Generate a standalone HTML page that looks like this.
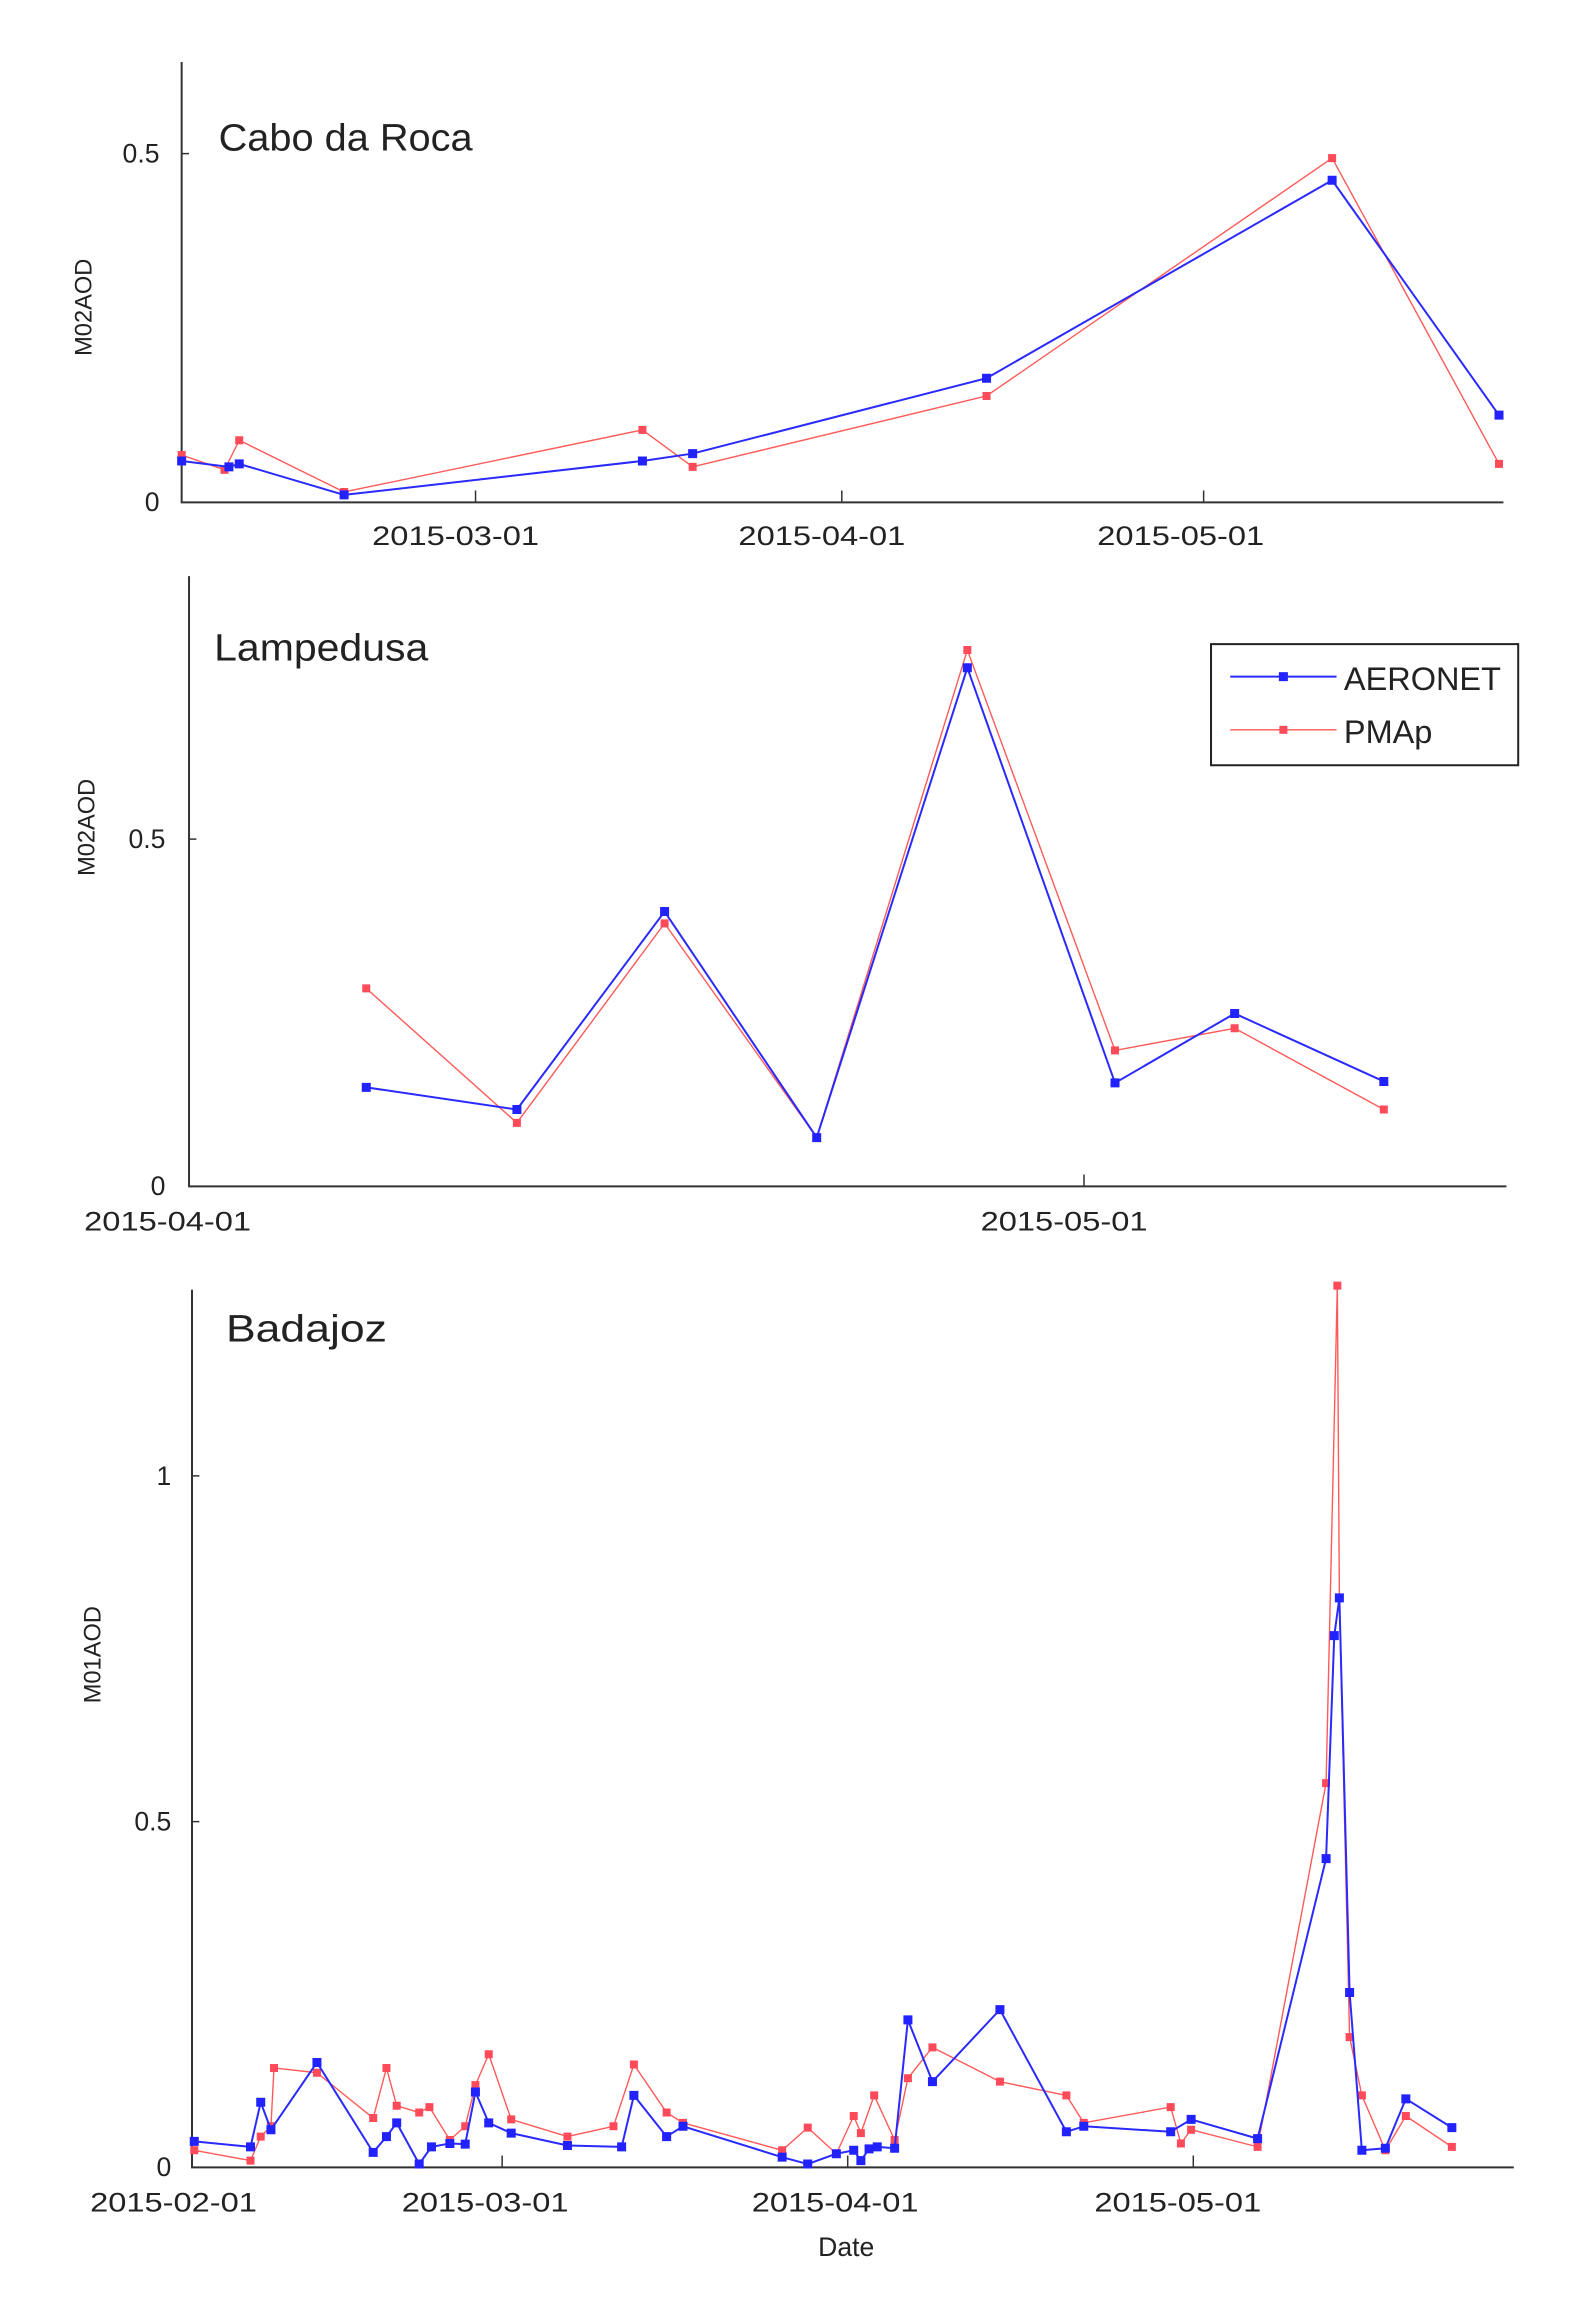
<!DOCTYPE html>
<html><head><meta charset="utf-8"><style>html,body{margin:0;padding:0;background:#fff}svg{display:block}</style></head>
<body>
<svg width="1595" height="2321" viewBox="0 0 1080 1571" preserveAspectRatio="none" xmlns="http://www.w3.org/2000/svg" font-family="Liberation Sans, sans-serif">
<style>
.ax{stroke:#333;fill:none;vector-effect:non-scaling-stroke}
.bl{stroke:#2a2aff;fill:none;stroke-width:2;vector-effect:non-scaling-stroke;stroke-linejoin:round}
.rd{stroke:#ff5a5a;fill:none;stroke-width:1.4;vector-effect:non-scaling-stroke;stroke-linejoin:round}
.bm{stroke:#2222ff;stroke-width:9;stroke-linecap:square;fill:none;vector-effect:non-scaling-stroke}
.rm{stroke:#ff4a5a;stroke-width:8;stroke-linecap:square;fill:none;vector-effect:non-scaling-stroke}
text{fill:#222}
</style>
<!-- Panel 1 -->
<path class="ax" style="stroke-width:2" d="M123 42V340H1018"/>
<path class="ax" style="stroke-width:1.5" d="M123 104h5M322 340v-8M570 340v-8M815 340v-8"/>
<text x="108" y="110" font-size="18" text-anchor="end">0.5</text>
<text x="108" y="346" font-size="18" text-anchor="end">0</text>
<text x="252" y="369" font-size="18" textLength="113" lengthAdjust="spacingAndGlyphs">2015-03-01</text>
<text x="500" y="369" font-size="18" textLength="113" lengthAdjust="spacingAndGlyphs">2015-04-01</text>
<text x="743" y="369" font-size="18" textLength="113" lengthAdjust="spacingAndGlyphs">2015-05-01</text>
<text x="148" y="102" font-size="26" textLength="172" lengthAdjust="spacingAndGlyphs">Cabo da Roca</text>
<text transform="translate(62,208) rotate(-90)" font-size="16" text-anchor="middle">M02AOD</text>
<polyline class="rd" points="123,308 152,318 162,298 233,333 435,291 469,316 668,268 902,107 1015,314"/>
<path class="rm" d="M123 308h0M152 318h0M162 298h0M233 333h0M435 291h0M469 316h0M668 268h0M902 107h0M1015 314h0"/>
<polyline class="bl" points="123,312 155,316 162,314 233,335 435,312 469,307 668,256 902,122 1015,281"/>
<path class="bm" d="M123 312h0M155 316h0M162 314h0M233 335h0M435 312h0M469 307h0M668 256h0M902 122h0M1015 281h0"/>

<!-- Panel 2 -->
<path class="ax" style="stroke-width:2" d="M128 390V803H1020"/>
<path class="ax" style="stroke-width:1.5" d="M128 568h5M734 803v-8"/>
<text x="112" y="574" font-size="18" text-anchor="end">0.5</text>
<text x="112" y="809" font-size="18" text-anchor="end">0</text>
<text x="57" y="833" font-size="18" textLength="113" lengthAdjust="spacingAndGlyphs">2015-04-01</text>
<text x="664" y="833" font-size="18" textLength="113" lengthAdjust="spacingAndGlyphs">2015-05-01</text>
<text x="145" y="447" font-size="26" textLength="145" lengthAdjust="spacingAndGlyphs">Lampedusa</text>
<text transform="translate(64,560) rotate(-90)" font-size="16" text-anchor="middle">M02AOD</text>
<polyline class="rd" points="248,669 350,760 450,625 553,770 655,440 755,711 836,696 937,751"/>
<path class="rm" d="M248 669h0M350 760h0M450 625h0M553 770h0M655 440h0M755 711h0M836 696h0M937 751h0"/>
<polyline class="bl" points="248,736 350,751 450,617 553,770 655,452 755,733 836,686 937,732"/>
<path class="bm" d="M248 736h0M350 751h0M450 617h0M553 770h0M655 452h0M755 733h0M836 686h0M937 732h0"/>
<rect x="820" y="436" width="208" height="82" fill="#fff" stroke="#222" stroke-width="2" vector-effect="non-scaling-stroke"/>
<line class="bl" x1="833" y1="458" x2="905" y2="458"/><path class="bm" d="M869 458h0"/>
<text x="910" y="467" font-size="22">AERONET</text>
<line class="rd" x1="833" y1="494" x2="905" y2="494"/><path class="rm" d="M869 494h0"/>
<text x="910" y="503" font-size="22">PMAp</text>

<!-- Panel 3 -->
<path class="ax" style="stroke-width:2" d="M130 873V1467H1025"/>
<path class="ax" style="stroke-width:1.5" d="M130 999h5M130 1233h5M340 1467v-8M574 1467v-8M808 1467v-8"/>
<text x="116" y="1005" font-size="18" text-anchor="end">1</text>
<text x="116" y="1239" font-size="18" text-anchor="end">0.5</text>
<text x="116" y="1473" font-size="18" text-anchor="end">0</text>
<text x="61" y="1497" font-size="18" textLength="113" lengthAdjust="spacingAndGlyphs">2015-02-01</text>
<text x="272" y="1497" font-size="18" textLength="113" lengthAdjust="spacingAndGlyphs">2015-03-01</text>
<text x="509" y="1497" font-size="18" textLength="113" lengthAdjust="spacingAndGlyphs">2015-04-01</text>
<text x="741" y="1497" font-size="18" textLength="113" lengthAdjust="spacingAndGlyphs">2015-05-01</text>
<text x="573" y="1527" font-size="18" text-anchor="middle">Date</text>
<text x="153" y="908" font-size="26" textLength="109" lengthAdjust="spacingAndGlyphs">Badajoz</text>
<text transform="translate(68,1120) rotate(-90)" font-size="16" text-anchor="middle">M01AOD</text>
<g transform="translate(0,840) scale(0.6923,0.4645)">
<polyline class="rd" points="190,1325 245,1340 255,1305 265,1290 268,1205 310,1212 365,1278 378,1205 388,1260 410,1270 420,1262 440,1310 455,1290 465,1230 478,1185 500,1280 555,1305 600,1290 620,1200 652,1270 668,1285 765,1325 790,1292 818,1330 835,1275 842,1300 855,1245 875,1310 888,1220 912,1175 978,1225 1043,1245 1060,1285 1145,1262 1155,1315 1165,1295 1230,1320 1297,790 1308,65 1310,520 1320,1160 1332,1245 1355,1325 1375,1275 1420,1320"/>
<path class="rm" d="M190 1325h0M245 1340h0M255 1305h0M265 1290h0M268 1205h0M310 1212h0M365 1278h0M378 1205h0M388 1260h0M410 1270h0M420 1262h0M440 1310h0M455 1290h0M465 1230h0M478 1185h0M500 1280h0M555 1305h0M600 1290h0M620 1200h0M652 1270h0M668 1285h0M765 1325h0M790 1292h0M818 1330h0M835 1275h0M842 1300h0M855 1245h0M875 1310h0M888 1220h0M912 1175h0M978 1225h0M1043 1245h0M1060 1285h0M1145 1262h0M1155 1315h0M1165 1295h0M1230 1320h0M1297 790h0M1308 65h0M1310 520h0M1320 1160h0M1332 1245h0M1355 1325h0M1375 1275h0M1420 1320h0"/>
<polyline class="bl" points="190,1312 245,1320 255,1255 265,1295 310,1197 365,1328 378,1305 388,1285 410,1345 422,1320 440,1315 455,1316 465,1240 478,1285 500,1300 555,1318 608,1320 620,1245 652,1305 668,1290 765,1335 790,1345 818,1330 835,1325 842,1340 850,1323 858,1320 875,1322 888,1135 912,1225 978,1120 1043,1298 1060,1290 1145,1298 1165,1280 1230,1308 1297,900 1305,575 1310,520 1320,1095 1332,1325 1355,1322 1375,1250 1420,1292"/>
<path class="bm" d="M190 1312h0M245 1320h0M255 1255h0M265 1295h0M310 1197h0M365 1328h0M378 1305h0M388 1285h0M410 1345h0M422 1320h0M440 1315h0M455 1316h0M465 1240h0M478 1285h0M500 1300h0M555 1318h0M608 1320h0M620 1245h0M652 1305h0M668 1290h0M765 1335h0M790 1345h0M818 1330h0M835 1325h0M842 1340h0M850 1323h0M858 1320h0M875 1322h0M888 1135h0M912 1225h0M978 1120h0M1043 1298h0M1060 1290h0M1145 1298h0M1165 1280h0M1230 1308h0M1297 900h0M1305 575h0M1310 520h0M1320 1095h0M1332 1325h0M1355 1322h0M1375 1250h0M1420 1292h0"/>
</g>
</svg>
</body></html>
